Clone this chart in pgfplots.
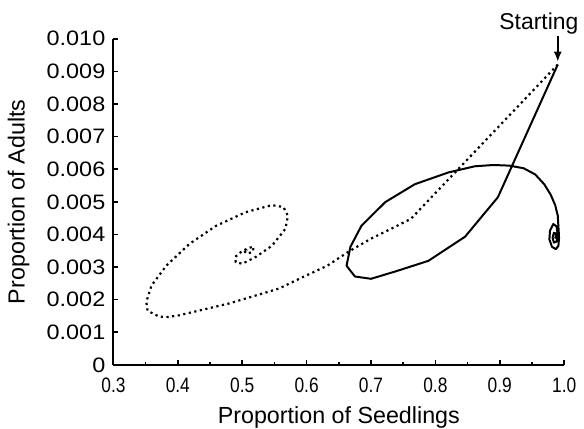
\documentclass[border=0pt]{standalone}
\usepackage{fontspec}
\setmainfont{Liberation Sans}
\usepackage{graphicx}
\usepackage{pgfplots}
\pgfplotsset{compat=1.18}
\usetikzlibrary{arrows.meta}
\newcommand{\xt}[1]{\scalebox{0.83}[1]{#1}}
\newcommand{\yt}[1]{\scalebox{1.12}[1]{#1}}
\begin{document}
\fontsize{11.7}{14}\selectfont
\begin{tikzpicture}
\begin{axis}[
  name=ax,
  scale only axis,
  width=226.5pt, height=163.85pt,
  xmin=0.3, xmax=1.0, ymin=0, ymax=0.010,
  axis lines*=left,
  axis line style={line width=1pt},
  tick style={line width=0.8pt, black},
  tick align=inside,
  major tick length=2.5pt,
  minor tick length=1.5pt,
  xtick={0.3,0.4,0.5,0.6,0.7,0.8,0.9,1.0},
  xticklabels={\xt{0.3},\xt{0.4},\xt{0.5},\xt{0.6},\xt{0.7},\xt{0.8},\xt{0.9},\xt{1.0}},
  minor x tick num=1,
  ytick={0,0.001,0.002,0.003,0.004,0.005,0.006,0.007,0.008,0.009,0.010},
  yticklabels={\yt{0},\yt{0.001},\yt{0.002},\yt{0.003},\yt{0.004},\yt{0.005},\yt{0.006},\yt{0.007},\yt{0.008},\yt{0.009},\yt{0.010}},
  xticklabel style={font=\fontsize{10.5}{12}\selectfont},
  yticklabel style={font=\fontsize{10.5}{12}\selectfont},
  scaled y ticks=false, scaled x ticks=false,
  xlabel={Proportion of Seedlings},
  ylabel={Proportion of Adults},
  xlabel style={at={([yshift=-29.5pt]axis description cs:0.5,0)}, anchor=base, inner sep=0pt},
  ylabel style={at={([xshift=-44.6pt]axis description cs:0,0.5)}, anchor=base, inner sep=0pt},
  xticklabel shift=2.4pt,
  clip=false,
]
\addplot[black, line width=1pt, line join=round] coordinates {
(0.990,0.00921) (0.897,0.00514) (0.846,0.00393) (0.789,0.00319)
(0.737,0.00286) (0.700,0.00264) (0.675,0.00271) (0.662,0.00304) (0.668,0.00362)
(0.685,0.00426) (0.722,0.00499) (0.768,0.00554) (0.820,0.00590) (0.861,0.00609)
(0.890,0.00613) (0.915,0.00611) (0.937,0.00603) (0.955,0.00584) (0.969,0.00554)
(0.979,0.00522) (0.986,0.00490) (0.990,0.00458) (0.991,0.00425)
(0.992,0.00390) (0.991,0.00365) (0.987,0.00355) (0.981,0.00362)
(0.977,0.00385) (0.978,0.00412) (0.983,0.00432) (0.988,0.00425) (0.990,0.00400)
(0.988,0.00378) (0.984,0.00375) (0.982,0.00390) (0.984,0.00405) (0.987,0.00403)
(0.987,0.00390) (0.985,0.00392)
};
\addplot[black, line width=1.1pt, dash pattern=on 1.1pt off 1.75pt] coordinates {
(0.990,0.00921) (0.762,0.00448) (0.737,0.00423) (0.700,0.00387) (0.665,0.00347)
(0.632,0.00304) (0.595,0.00270) (0.557,0.00234) (0.479,0.00188) (0.402,0.00152)
(0.385,0.00147) (0.371,0.00148) (0.353,0.00166) (0.351,0.00193) (0.359,0.00243)
(0.382,0.00304) (0.418,0.00371) (0.459,0.00426) (0.505,0.00468) (0.546,0.00490)
(0.564,0.00484) (0.571,0.00457) (0.567,0.00417) (0.546,0.00365) (0.521,0.00331)
(0.500,0.00310) (0.490,0.00315) (0.489,0.00331) (0.498,0.00346) (0.510,0.00359)
(0.518,0.00362) (0.516,0.00346) (0.507,0.00341) (0.503,0.00350) (0.508,0.00352)
};
\draw[line width=0.8pt, -{Latex[length=5pt,width=4pt]}] (axis cs:0.99,0.0101) -- (axis cs:0.99,0.0093);
\node[anchor=base, inner sep=0pt, xshift=-9.5pt, font=\fontsize{11.5}{14}\selectfont] at (axis cs:0.99,0.01027) {Starting};
\end{axis}
\path ([shift={(-57pt,-32.15pt)}]ax.south west) rectangle ([shift={(8.5pt,19.5pt)}]ax.north east);
\end{tikzpicture}
\end{document}
